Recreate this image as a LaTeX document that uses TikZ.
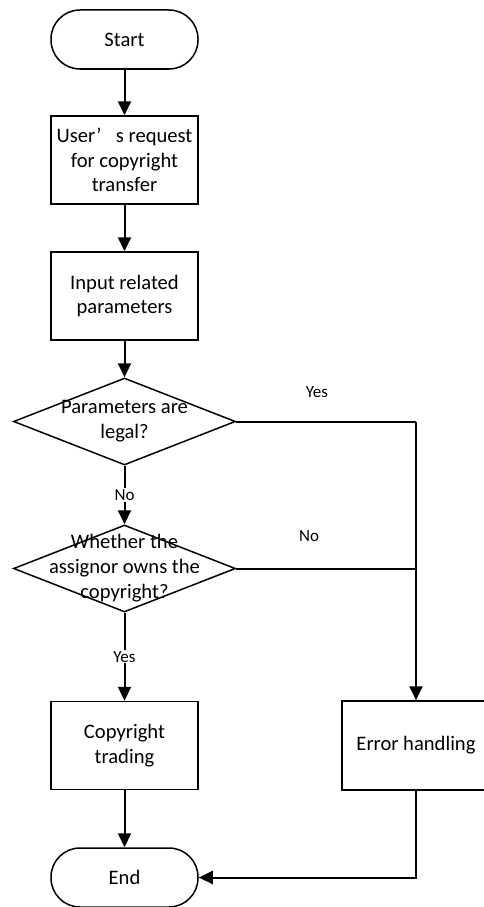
\documentclass[tikz,border=0pt]{standalone}
\usepackage{fontspec}
\setmainfont{Carlito}
\usetikzlibrary{shapes.geometric,arrows.meta}

\tikzset{
  x=1pt, y=-1pt,
  shapeline/.style={draw=black, line width=1.5pt},
  terminal/.style={shapeline, rectangle, rounded corners=29pt,
    minimum width=147pt, minimum height=59pt, inner sep=0pt,
    font=\fontsize{20.6}{24.5}\selectfont},
  procbox/.style={shapeline, rectangle, minimum width=147pt,
    minimum height=88pt, inner sep=0pt, align=center,
    font=\fontsize{20.6}{24.5}\selectfont},
  decision/.style={shapeline, diamond, minimum width=222pt,
    minimum height=87pt, inner sep=0pt},
  decisiontext/.style={align=center, inner sep=0pt,
    font=\fontsize{20.6}{25}\selectfont},
  flow/.style={line width=2pt, -{Triangle[width=13pt,length=14pt]}},
  plainflow/.style={line width=2pt},
  branch/.style={font=\fontsize{17}{20}\selectfont, inner sep=1pt},
}

\begin{document}
\begin{tikzpicture}
\useasboundingbox (0,0) rectangle (484,907);

% process chain on the left
\node[terminal] (start) at (124.5,39.5) {Start};
\node[procbox] (request) at (124.5,160) {User’\hspace{0.7em}s request\\for copyright\\transfer};
\node[procbox] (input) at (124.5,296) {Input related\\parameters};
\node[decision] (legal) at (124.5,421.5) {};
\node[decisiontext] (legaltxt) at (124.5,421.5) {Parameters are\\legal?};
\node[decision] (owns) at (124.5,568.5) {};
\node[decisiontext] (ownstxt) at (124.5,568.5) {Whether the\\assignor owns the\\copyright?};
\node[procbox] (trade) at (124.5,745.5) {Copyright\\trading};
\node[terminal] (stop) at (124.5,877.5) {End};

% error branch on the right
\node[procbox, minimum width=148pt, minimum height=89pt] (error) at (416,745.5) {Error handling};
\coordinate (corner) at (416,421.5);
\coordinate (merge) at (416,568.5);

% branch captions
\node[branch] (yesright) at (317,392) {Yes};
\node[branch] (noright) at (309,536) {No};

% connectors
\draw[flow] (start) -- (request);
\draw[flow] (request) -- (input);
\draw[flow] (input) -- (legal.north);
\draw[flow] (legal.south) -- node[branch, fill=white] {No} (owns.north);
\draw[flow] (owns.south) -- node[branch, fill=white] {Yes} (trade.north);
\draw[flow] (trade) -- (stop);
\draw[plainflow] (legal.east) -- (corner);
\draw[plainflow] (owns.east) -- (merge);
\draw[flow] (corner) -- (error.north);
\draw[flow] (error.south) |- (stop.east);
\end{tikzpicture}
\end{document}
